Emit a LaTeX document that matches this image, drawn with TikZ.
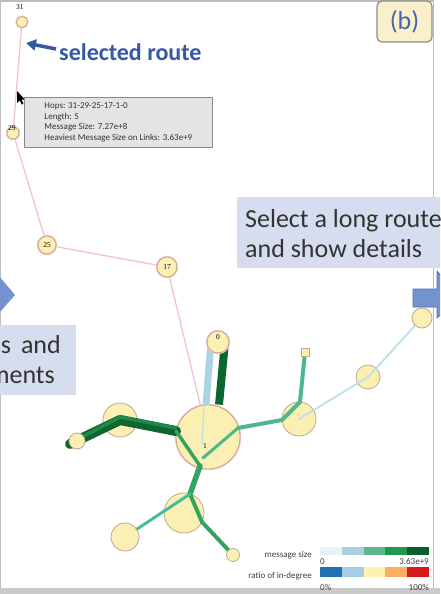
\documentclass[tikz,border=0pt]{standalone}
\usepackage{fontspec}
\setmainfont{Carlito}
\newfontfamily\numfont{Liberation Serif}
\usetikzlibrary{arrows.meta,calc}
\definecolor{nodef}{HTML}{FBEFB4}
\definecolor{nodeb}{HTML}{C2A88C}
\definecolor{pinkhl}{HTML}{F6C6CE}
\definecolor{routec}{HTML}{F2C4CA}
\definecolor{bluebox}{HTML}{D5DDEE}
\definecolor{arrowb}{HTML}{7393CF}
\definecolor{arrowd}{HTML}{4F72B5}
\definecolor{seltext}{HTML}{3557A6}
\definecolor{txt}{HTML}{333333}
\definecolor{dkg}{HTML}{0B6630}
\definecolor{mg}{HTML}{1F8A47}
\definecolor{gg}{HTML}{35A463}
\definecolor{tg}{HTML}{4DB88E}
\definecolor{lb}{HTML}{A9D5E2}
\definecolor{lbt}{HTML}{BCE0E8}
\definecolor{framec}{HTML}{BDBDBD}
\definecolor{tipf}{HTML}{E4E4E4}
\definecolor{tipb}{HTML}{8A8A8A}
\definecolor{bfill}{HTML}{FBF0CC}
\definecolor{btext}{HTML}{4565AE}
\definecolor{s1}{HTML}{E6F3F7}
\definecolor{s2}{HTML}{A8D0E0}
\definecolor{s3}{HTML}{5DB88E}
\definecolor{s4}{HTML}{1E9A4A}
\definecolor{s5}{HTML}{0A5F2A}
\definecolor{r1}{HTML}{2171B5}
\definecolor{r2}{HTML}{A6CEE3}
\definecolor{r3}{HTML}{FFF2B0}
\definecolor{r4}{HTML}{FDAE61}
\definecolor{r5}{HTML}{D7191C}
\begin{document}
\begin{tikzpicture}[x=1pt,y=-1pt,
  nd/.style={circle,draw=nodeb,fill=nodef,line width=0.8pt,inner sep=0pt,minimum size=#1},
  rt/.style={preaction={draw=pinkhl,line width=2.4pt}},
  lab/.style={font=\numfont\fontsize{7.5}{8}\selectfont,text=black,inner sep=0pt},
  bigtext/.style={font=\fontsize{26}{30}\selectfont,text=txt,inner sep=0pt},
  legtext/.style={font=\fontsize{9}{10}\selectfont,text=black!75,inner sep=0pt},
  line cap=round,line join=round]
\useasboundingbox (0,0) rectangle (440,594);
\clip (0,0) rectangle (440,594);
\fill[white] (0,0) rectangle (440,594);
% frame
\draw[framec,line width=1.2pt] (0.5,594) -- (0.5,1) -- (433.5,1) -- (433.5,588);
\fill[framec!80] (0,588) rectangle (440,594);

% coordinates
\coordinate (jL) at (176,431);
\coordinate (jB) at (200,466);
\coordinate (jI) at (203,458);
\coordinate (jR) at (238,428);
\coordinate (jR2) at (282,420);
\coordinate (jR3) at (300,402);
\coordinate (jB2) at (190,494);
\coordinate (jB3) at (202,522);

% pink route
\draw[routec,line width=1.3pt] (22,22) -- (13,133) -- (47,245) -- (167,267) -- (208,437);

% hub nodes
\node[nd=64pt,rt] (n1) at (208,437) {};
\node[nd=34pt] (nM) at (120,420) {};
\node[nd=34pt] (nR) at (299,419) {};
\node[nd=24pt] (nT) at (368,377) {};
\node[nd=40pt] (nB) at (184,513) {};

% edges
\draw[dkg,line width=10pt] (70,444) -- (nM.center) -- (jL);
\draw[mg,line width=3.5pt] ([yshift=3pt]80,441) -- ([yshift=3pt]nM.center) -- ([yshift=3pt]jL);
\draw[gg,line width=3.5pt] (jL) -- (jB);
\draw[tg,line width=3pt] (jI) -- (jR);
\draw[tg,line width=4pt] (jR) -- (jR2) -- (jR3) -- (305,352);
\draw[lbt,line width=1.8pt] (nR.center) -- (nT.center) -- (422,318);
\draw[gg,line width=5.5pt] (jB) -- (jB2);
\draw[gg,line width=4pt] (jB2) -- (jB3) -- (233,555);
\draw[tg!90!cyan,line width=3pt] (jB2) -- (125,537);
\draw[lbt,line width=1.2pt] (204,405) -- (202,444);
\draw[lb,line width=7pt,line cap=butt] ($(218,342)+(-7,0)$) -- ($(n1.north)+(-2,0)$);
\draw[dkg,line width=8pt,line cap=butt] ($(218,342)+(7,0)$) -- ($(n1.north)+(11,0)$);

% leaf nodes
\node[nd=16pt] (nL) at (77,441) {};
\node[nd=28pt] (nBL) at (125,537) {};
\node[nd=13pt] (nBR) at (233,555) {};
\node[rectangle,draw=nodeb,fill=nodef,line width=0.8pt,minimum size=8pt,inner sep=0pt] (nS) at (305,352) {};
\node[nd=22pt,rt] (n0) at (218,342) {};
\node[nd=20pt] (nU) at (422,318) {};
\node[nd=20pt,rt] (n17) at (167,267) {};
\node[nd=18pt,rt] (n25) at (47,245) {};
\node[nd=12pt,rt] (n29) at (13,133) {};
\node[nd=11pt,rt] (n31) at (22,22) {};

% node labels
\node[lab] at (20,7) {31};
\node[lab] at (12,128) {29};
\node[lab] at (47,245) {25};
\node[lab] at (167,267) {17};
\node[lab] at (205,446) {1};
\node[lab] at (218,337) {0};

% selected route annotation
\coordinate (arT) at (56,49);
\coordinate (arH) at (26,43);
\draw[seltext,line width=3.5pt,line cap=butt,-{Triangle[length=10pt,width=11pt]}] (arT) -- (arH);
\node[anchor=base west,inner sep=0pt,text=seltext,font=\bfseries\fontsize{24}{28}\selectfont] (sel) at (59,60) {selected route};

% cursor
\fill[black] (17,91) -- (17,103) -- (19.8,100.4) -- (21.8,104.6) -- (23.4,103.8) -- (21.4,99.8) -- (25,99.6) -- cycle;

% tooltip
\node[draw=tipb,fill=tipf,line width=0.8pt,anchor=north west,align=left,inner xsep=8pt,inner ysep=5pt,minimum width=188pt,
  font=\fontsize{9}{10.8}\selectfont,text=black!80] (tip) at (24,97)
  {Hops: 31-29-25-17-1-0\\Length: 5\\Message Size: 7.27e+8\\Heaviest Message Size on Links: 3.63e+9};

% (b) label
\node[draw=black!45,fill=bfill,rounded corners=5pt,line width=1.2pt,minimum width=55pt,minimum height=41pt,
  text=btext,font=\fontsize{26}{30}\selectfont,inner sep=0pt] (blab) at (404.5,21.5) {(b)};

% right text box
\fill[bluebox] (237,197) rectangle (445,268);
\node[bigtext,anchor=base west] (rtxt1) at (245,227) {Select a long route};
\node[bigtext,anchor=base west] (rtxt2) at (245,257) {and show details};

% left text box
\fill[bluebox] (-2,325) rectangle (76,395);
\node[bigtext,anchor=base east] (ltxt1) at (61,353) {s\hspace{10pt}and};
\node[bigtext,anchor=base east] (ltxt2) at (55,383) {ments};

% left arrow
\fill[arrowb] (-1,276) -- (15,295) -- (-1,313) -- cycle;

% right arrow
\filldraw[fill=arrowb,draw=arrowd,line width=0.8pt] (413,289) -- (437,289) -- (437,271) -- (460,298) -- (437,318) -- (437,307) -- (413,307) -- cycle;

% legend
\node[legtext,anchor=base east] (lms) at (312,557) {message size};
\fill[s1] (320,547) rectangle (341.8,555);
\fill[s2] (341.8,547) rectangle (363.6,555);
\fill[s3] (363.6,547) rectangle (385.4,555);
\fill[s4] (385.4,547) rectangle (407.2,555);
\fill[s5] (407.2,547) rectangle (429,555);
\node[legtext,anchor=base west] at (320,564) {0};
\node[legtext,anchor=base east] at (429,564) {3.63e+9};
\node[legtext,anchor=base east] (lrd) at (312,578) {ratio of in-degree};
\fill[r1] (320,567) rectangle (341.8,577);
\fill[r2] (341.8,567) rectangle (363.6,577);
\fill[r3] (363.6,567) rectangle (385.4,577);
\fill[r4] (385.4,567) rectangle (407.2,577);
\fill[r5] (407.2,567) rectangle (429,577);
\node[legtext,anchor=base west] at (320,590) {0\%};
\node[legtext,anchor=base east] at (429,590) {100\%};
\end{tikzpicture}
\end{document}
